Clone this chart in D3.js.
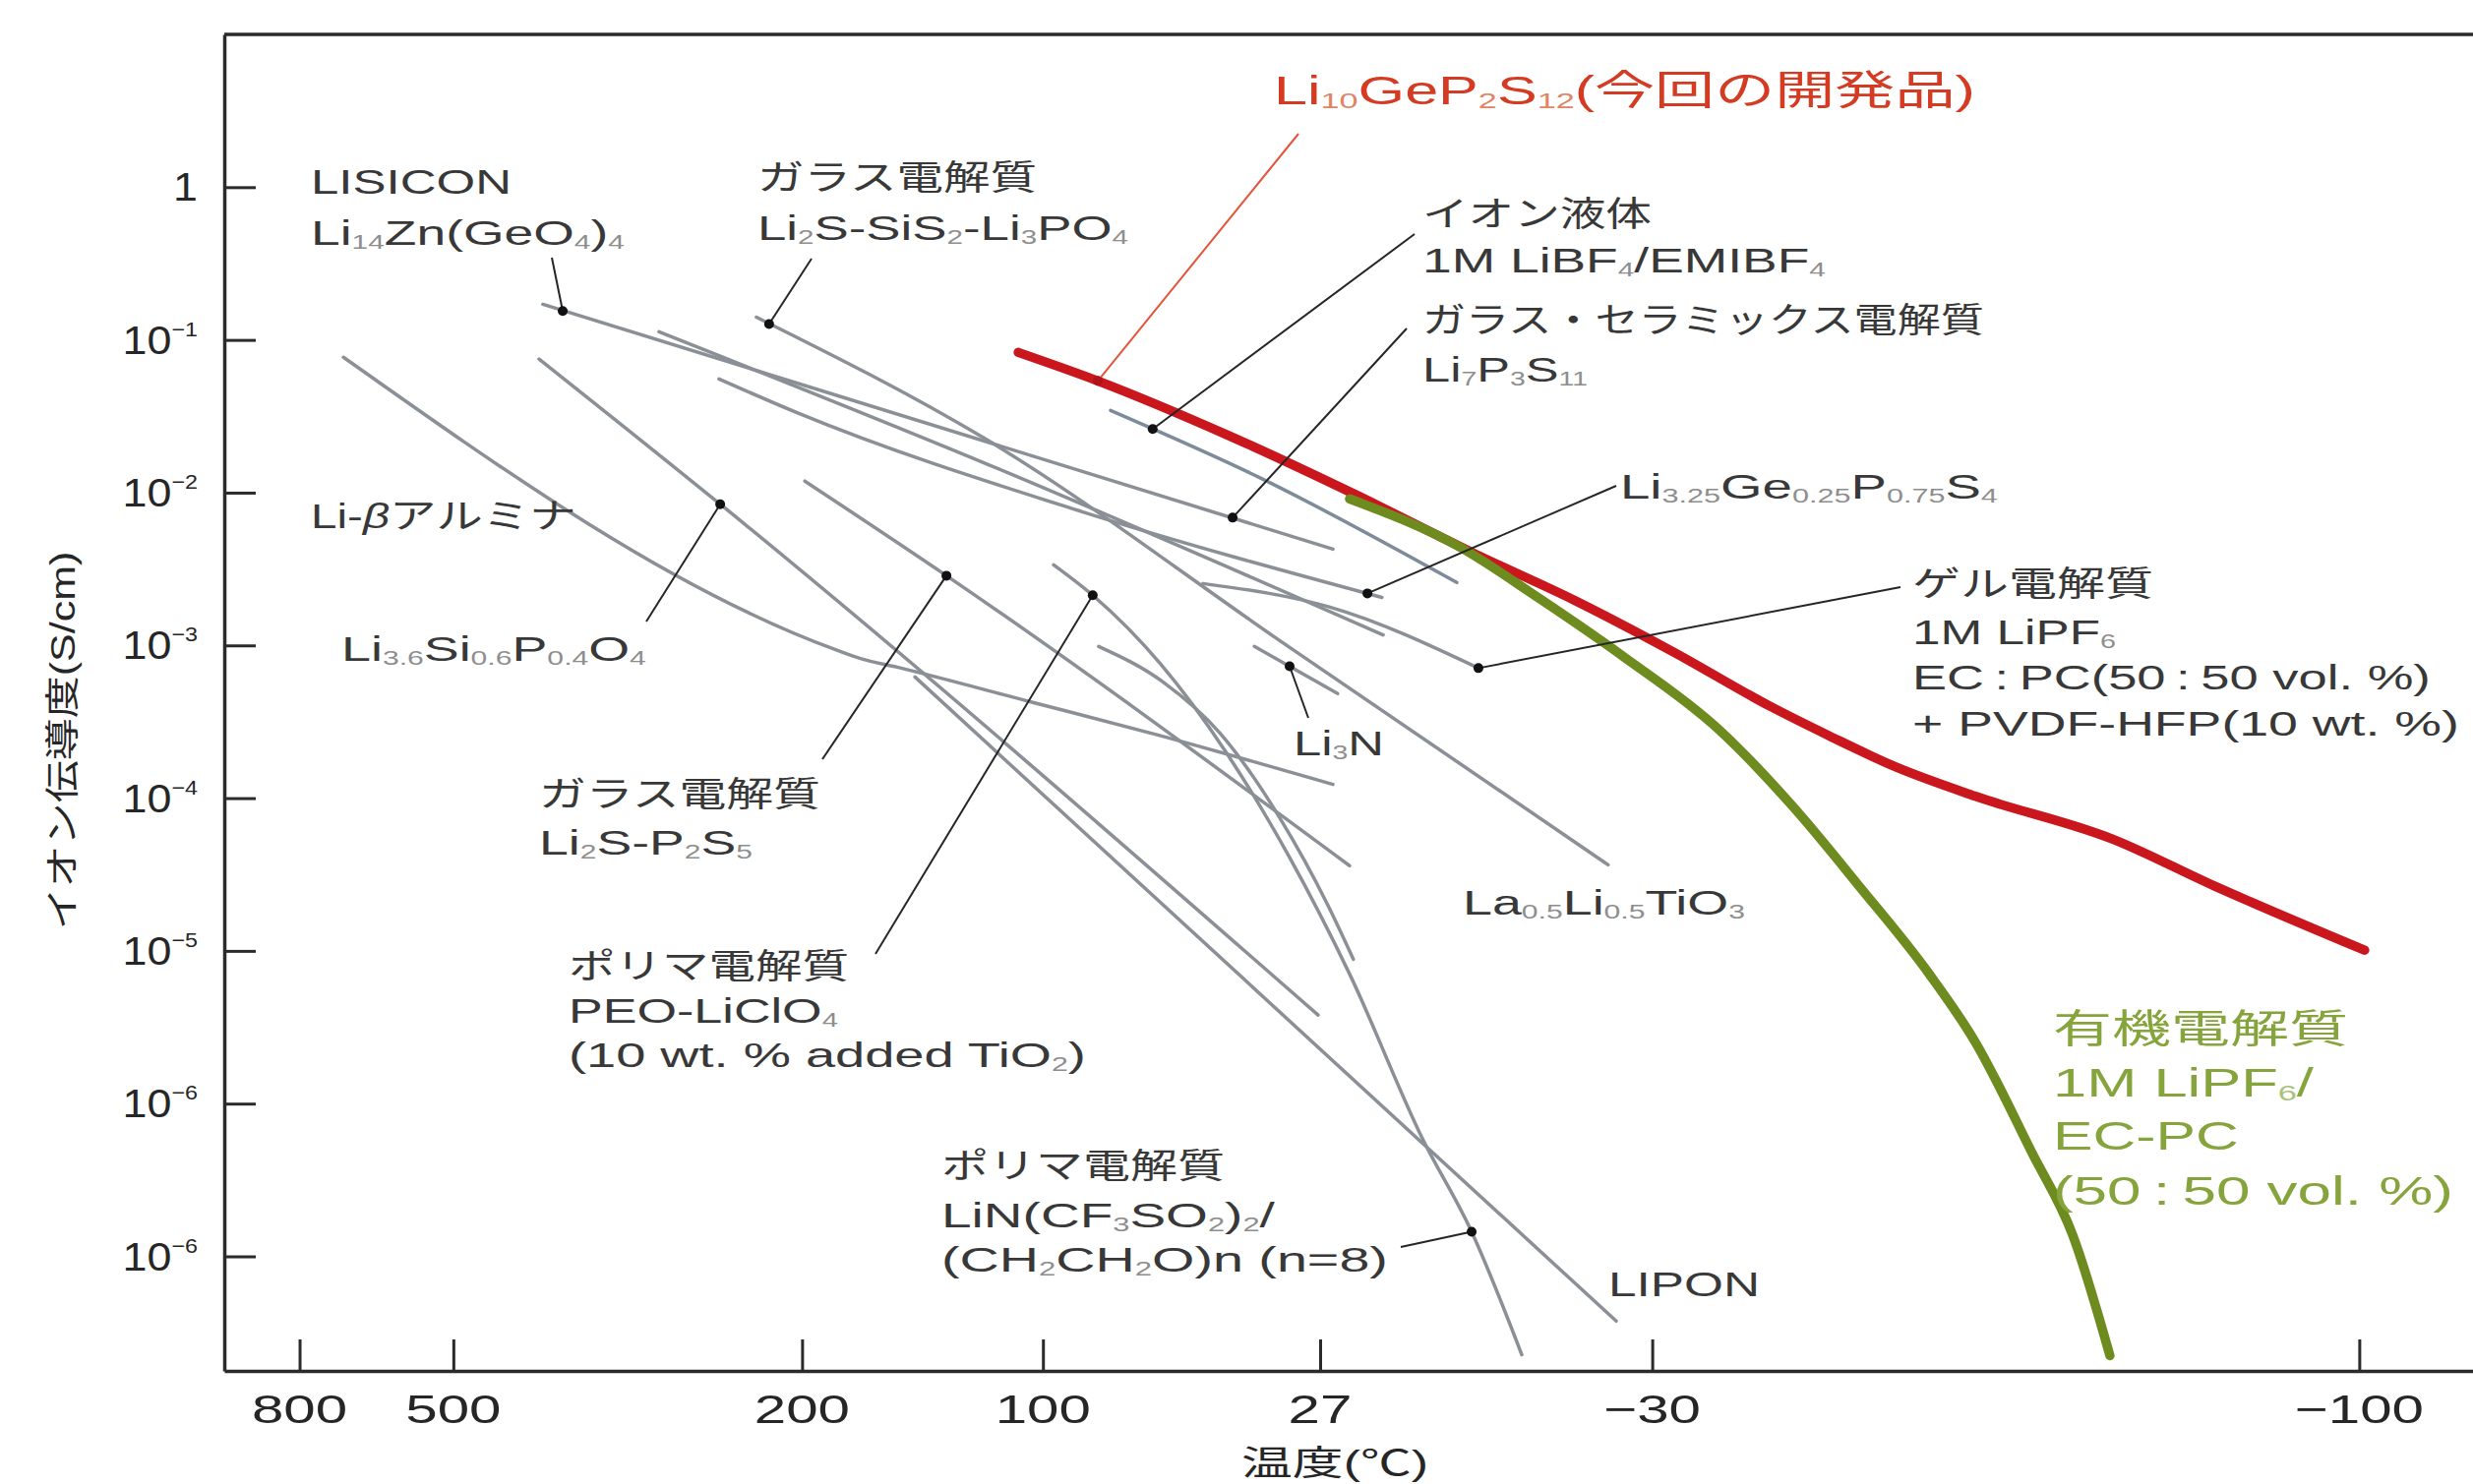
<!DOCTYPE html>
<html>
<head>
<meta charset="utf-8">
<script src="https://cdn.jsdelivr.net/npm/d3@7"></script>
<style>
  html, body { margin: 0; padding: 0; background: #fff; }
  svg { display: block; }
</style>
</head>
<body>
<svg id="chart" width="2514" height="1509"></svg>
<script>
// ---- axis ticks ----
const tempTicksC = [800, 500, 200, 100, 27, -30, -100];
const tempTickLabels = ["800", "500", "200", "100", "27", "−30", "−100"];
const condTicks = [1, 1e-1, 1e-2, 1e-3, 1e-4, 1e-5, 1e-6, 1e-7];
const condTickLabels = ["1", "10^{−1}", "10^{−2}", "10^{−3}", "10^{−4}", "10^{−5}", "10^{−6}", "10^{−6}"];

// ---- series: [1000/T (1/K), conductivity (S/cm)] ----
const lgps = [[2.622, 8.28e-2], [2.809, 5.39e-2], [3.119, 2.35e-2], [3.417, 9.65e-3], [3.697, 3.96e-3],
  [3.929, 1.98e-3], [4.160, 9.14e-4], [4.391, 3.98e-4], [4.530, 2.55e-4], [4.683, 1.61e-4],
  [4.872, 1.03e-4], [5.196, 5.38e-5], [5.432, 2.68e-5], [5.788, 1.01e-5]];
const organicLiquid = [[3.401, 9.10e-3], [3.665, 4.33e-3], [3.836, 2.13e-3], [4.044, 8.49e-4],
  [4.266, 2.87e-4], [4.440, 9.04e-5], [4.602, 2.60e-5], [4.764, 7.06e-6], [4.872, 2.54e-6],
  [5.006, 4.75e-7], [5.101, 1.39e-7], [5.189, 2.24e-8]];

const liBetaAlumina = [[1.035, 7.7e-2], [2.191, 9.4e-4], [2.251, 8.2e-4], [2.337, 7.2e-4],
  [2.647, 4.3e-4], [2.948, 2.6e-4], [3.362, 1.23e-4]];
const li36Si06P04O4 = [[1.495, 7.5e-2], [1.921, 8.4e-3], [3.327, 3.8e-6]];
const lisicon = [[1.504, 1.71e-1], [3.362, 4.27e-3]];
const sulfideGlass = [[1.777, 1.13e-1], [2.541, 1.57e-2], [3.480, 1.17e-3]];
const li2sSiS2Li3po4 = [[2.006, 1.41e-1], [2.541, 2.28e-2], [3.251, 1.01e-3], [4.009, 3.66e-5]];
const li325Ge025P075S4 = [[1.918, 5.55e-2], [2.106, 3.30e-2], [2.772, 7.5e-3], [3.477, 2.06e-3]];
const ionicLiquid = [[2.839, 3.45e-2], [3.188, 1.26e-2], [3.653, 2.58e-3]];
const gelElectrolyte = [[3.056, 2.54e-3], [3.355, 1.78e-3], [3.704, 7.1e-4]];
const li3n = [[3.177, 9.84e-4], [3.373, 4.83e-4]];
const li2sP2s5 = [[2.120, 1.19e-2], [2.453, 2.86e-3], [3.401, 3.61e-5]];
const polymerPeo = [[2.705, 3.37e-3], [2.797, 2.13e-3], [2.957, 7.53e-4], [3.119, 1.84e-4],
  [3.258, 4.18e-5], [3.401, 7.06e-6], [3.572, 5.93e-7], [3.688, 1.45e-7], [3.806, 2.27e-8]];
const polymerTfsi = [[2.811, 9.84e-4], [2.962, 5.77e-4], [3.096, 2.67e-4], [3.235, 7.57e-5],
  [3.350, 1.99e-5], [3.410, 8.81e-6]];
const lipon = [[2.379, 6.21e-4], [4.028, 3.77e-8]];

const graySeries = [liBetaAlumina, li36Si06P04O4, lisicon, sulfideGlass, li2sSiS2Li3po4,
  li325Ge025P075S4, gelElectrolyte, li3n, li2sP2s5, polymerPeo, polymerTfsi, lipon];

// leader anchors on the curves [1000/T, S/cm] and where each leader meets its label (px)
const callouts = [
  { at: [1.5506, 1.545e-1], to: [561, 262] },
  { at: [2.036, 1.27e-1], to: [825, 263] },
  { at: [2.938, 2.61e-2], to: [1438, 238] },
  { at: [3.126, 6.86e-3], to: [1430, 334] },
  { at: [3.443, 2.19e-3], to: [1643, 494] },
  { at: [3.704, 7.1e-4], to: [1932, 597] },
  { at: [3.260, 7.3e-4], to: [1330, 730] },
  { at: [2.453, 2.86e-3], to: [836, 772] },
  { at: [1.921, 8.4e-3], to: [657, 632] },
  { at: [2.797, 2.13e-3], to: [890, 970] },
  { at: [3.688, 1.45e-7], to: [1424, 1268] }
];
const lgpsCallout = { at: [2.809, 5.39e-2], to: [1320, 136] };

// ---- styling ----
const FONT = "'Liberation Sans', 'Noto Sans CJK JP', sans-serif";
const TEXT = "#383838", SUB = "#8e8e8e";
const RED = "#c9171d", RED_TEXT = "#d43b22", RED_SUB = "#e08466";
const GREEN = "#6d8b1f", GREEN_TEXT = "#86a43c", GREEN_SUB = "#a9c27a";
const GRAY = "#8b9097";
const TS = "\u2009"; // thin space around ratio colons

// text labels: left/baseline position and drawn width (px)
const labels = [
  { x: 1295, y: 106, w: 713, t: "Li_{10}GeP_{2}S_{12}(今回の開発品)", size: 41, color: RED_TEXT, sub: RED_SUB },
  { x: 316, y: 197, w: 204, t: "LISICON" },
  { x: 316, y: 249, w: 319, t: "Li_{14}Zn(GeO_{4})_{4}" },
  { x: 770, y: 193, w: 284, t: "ガラス電解質" },
  { x: 770, y: 244, w: 377, t: "Li_{2}S-SiS_{2}-Li_{3}PO_{4}" },
  { x: 1446, y: 230, w: 233, t: "イオン液体" },
  { x: 1446, y: 277, w: 410, t: "1M LiBF_{4}/EMIBF_{4}" },
  { x: 1446, y: 338, w: 571, t: "ガラス・セラミックス電解質" },
  { x: 1446, y: 388, w: 168, t: "Li_{7}P_{3}S_{11}" },
  { x: 1647, y: 507, w: 384, t: "Li_{3.25}Ge_{0.25}P_{0.75}S_{4}" },
  { x: 1944, y: 606, w: 245, t: "ゲル電解質" },
  { x: 1944, y: 655, w: 207, t: "1M LiPF_{6}" },
  { x: 1944, y: 701, w: 527, t: `EC${TS}:${TS}PC(50${TS}:${TS}50 vol. %)` },
  { x: 1944, y: 748, w: 556, t: "+ PVDF-HFP(10 wt. %)" },
  { x: 316, y: 537, w: 270, t: "Li-*{β}アルミナ" },
  { x: 347, y: 672, w: 310, t: "Li_{3.6}Si_{0.6}P_{0.4}O_{4}" },
  { x: 1315, y: 768, w: 92, t: "Li_{3}N" },
  { x: 548, y: 820, w: 286, t: "ガラス電解質" },
  { x: 548, y: 869, w: 217, t: "Li_{2}S-P_{2}S_{5}" },
  { x: 1487, y: 930, w: 287, t: "La_{0.5}Li_{0.5}TiO_{3}" },
  { x: 578, y: 995, w: 285, t: "ポリマ電解質" },
  { x: 578, y: 1040, w: 274, t: "PEO-LiClO_{4}" },
  { x: 578, y: 1085, w: 526, t: "(10 wt. % added TiO_{2})" },
  { x: 957, y: 1198, w: 288, t: "ポリマ電解質" },
  { x: 957, y: 1248, w: 339, t: "LiN(CF_{3}SO_{2})_{2}/" },
  { x: 957, y: 1293, w: 454, t: "(CH_{2}CH_{2}O)n (n=8)" },
  { x: 1635, y: 1318, w: 154, t: "LIPON" },
  { x: 2087, y: 1060, w: 300, t: "有機電解質", size: 40, color: GREEN_TEXT, sub: GREEN_SUB },
  { x: 2087, y: 1115, w: 265, t: "1M LiPF_{6}/", size: 40, color: GREEN_TEXT, sub: GREEN_SUB },
  { x: 2087, y: 1169, w: 189, t: "EC-PC", size: 40, color: GREEN_TEXT, sub: GREEN_SUB },
  { x: 2087, y: 1225, w: 407, t: `(50${TS}:${TS}50 vol. %)`, size: 40, color: GREEN_TEXT, sub: GREEN_SUB }
];

// ---- layout ----
const frame = { left: 228, top: 35, right: 2514, bottom: 1394 };
const svg = d3.select("#chart");
svg.append("rect").attr("width", 2514).attr("height", 1509).attr("fill", "#fff");

const x = d3.scaleLinear().domain([0.7548, 6.0428]).range([frame.left, frame.right]);
const y = d3.scaleLog().domain([Math.pow(10, -7.75), 10]).range([frame.bottom, frame.top]);

// rich text: _{..} subscript, ^{..} superscript, *{..} italic
function rich(text, markup, fs, subFill) {
  const re = /([_^*])\{([^}]*)\}/g;
  let last = 0, m, offset = 0;
  const push = (str, kind) => {
    const ts = text.append("tspan").text(str);
    let target = 0;
    if (kind === "_") {
      target = 0.1 * fs;
      ts.attr("font-size", 0.56 * fs);
      if (subFill) ts.attr("fill", subFill);
    } else if (kind === "^") {
      target = -0.45 * fs;
      ts.attr("font-size", 0.52 * fs);
    } else if (kind === "*") {
      ts.attr("font-style", "italic");
    }
    if (target !== offset) ts.attr("dy", target - offset);
    offset = target;
  };
  while ((m = re.exec(markup)) !== null) {
    if (m.index > last) push(markup.slice(last, m.index), "");
    push(m[2], m[1]);
    last = re.lastIndex;
  }
  if (last < markup.length) push(markup.slice(last), "");
}

// places a text, then stretches it horizontally to the given width (or by a fixed factor)
function placeText(g, px, py, markup, opt) {
  const fs = opt.size || 35;
  const t = g.append("text")
    .attr("font-family", FONT)
    .attr("font-size", fs)
    .attr("fill", opt.color || TEXT)
    .attr("text-anchor", opt.anchor || "start");
  rich(t, markup, fs, opt.sub === undefined ? SUB : opt.sub);
  let sx = opt.sx || 1;
  if (opt.w) {
    const len = t.node().getComputedTextLength();
    if (len > 0) sx = opt.w / len;
  }
  const rot = opt.rotate ? ` rotate(${opt.rotate})` : "";
  t.attr("transform", `translate(${px},${py})${rot} scale(${sx},1)`);
  return t;
}

// ---- axes (ticks point inward) ----
const axisColor = "#2b2b2b";
const gx = svg.append("g")
  .attr("transform", `translate(0,${frame.bottom})`)
  .call(d3.axisBottom(x)
    .tickValues(tempTicksC.map(t => 1000 / (t + 273.15)))
    .tickSize(-32).tickSizeOuter(0).tickFormat(""));
const gy = svg.append("g")
  .attr("transform", `translate(${frame.left},0)`)
  .call(d3.axisLeft(y)
    .tickValues(condTicks)
    .tickSize(-32).tickSizeOuter(0).tickFormat(""));
[gx, gy].forEach(g => {
  g.select(".domain").attr("stroke", axisColor).attr("stroke-width", 3.5);
  g.selectAll(".tick line").attr("stroke", axisColor).attr("stroke-width", 3);
  g.selectAll(".tick text").remove();
});
svg.append("line")
  .attr("x1", frame.left).attr("x2", frame.right)
  .attr("y1", frame.top).attr("y2", frame.top)
  .attr("stroke", axisColor).attr("stroke-width", 3.5);

const tickLabels = svg.append("g");
tempTicksC.forEach((t, i) => {
  placeText(tickLabels, x(1000 / (t + 273.15)), 1447, tempTickLabels[i],
    { size: 41, sx: 1.42, anchor: "middle", color: "#262626" });
});
condTicks.forEach((v, i) => {
  placeText(tickLabels, 201, y(v) + 14, condTickLabels[i],
    { size: 40, sx: 1.12, anchor: "end", color: "#262626" });
});

// axis titles
placeText(svg, 76, 753, "イオン伝導度(S/cm)", { size: 35, w: 385, anchor: "middle", rotate: -90, color: "#262626" });
placeText(svg, 1357, 1500, "温度(℃)", { size: 35, w: 190, anchor: "middle", color: "#262626" });

// ---- curves ----
const line = d3.line().x(d => x(d[0])).y(d => y(d[1])).curve(d3.curveMonotoneX);
const curves = svg.append("g").attr("fill", "none").attr("stroke-linecap", "round");

curves.selectAll("path.gray")
  .data(graySeries)
  .join("path")
  .attr("class", "gray")
  .attr("d", line)
  .attr("stroke", GRAY)
  .attr("stroke-width", 3.5);

curves.append("path").attr("d", line(ionicLiquid))
  .attr("stroke", "#7e8b9b").attr("stroke-width", 3.5);

curves.append("path").attr("d", line(lgps))
  .attr("stroke", RED).attr("stroke-width", 9.5);
curves.append("path").attr("d", line(organicLiquid))
  .attr("stroke", GREEN).attr("stroke-width", 9.5);

// ---- leaders ----
const leaders = svg.append("g");
callouts.forEach(c => {
  const ax = x(c.at[0]), ay = y(c.at[1]);
  leaders.append("line")
    .attr("x1", c.to[0]).attr("y1", c.to[1]).attr("x2", ax).attr("y2", ay)
    .attr("stroke", "#262626").attr("stroke-width", 2);
  leaders.append("circle").attr("cx", ax).attr("cy", ay).attr("r", 5).attr("fill", "#111");
});
{
  const ax = x(lgpsCallout.at[0]), ay = y(lgpsCallout.at[1]);
  leaders.append("line")
    .attr("x1", lgpsCallout.to[0]).attr("y1", lgpsCallout.to[1]).attr("x2", ax).attr("y2", ay)
    .attr("stroke", "#e2553a").attr("stroke-width", 2);
  leaders.append("circle").attr("cx", ax).attr("cy", ay).attr("r", 5).attr("fill", "#b0141a");
}

// ---- labels ----
const labelLayer = svg.append("g");
labels.forEach(l => placeText(labelLayer, l.x, l.y, l.t, l));
</script>
</body>
</html>
